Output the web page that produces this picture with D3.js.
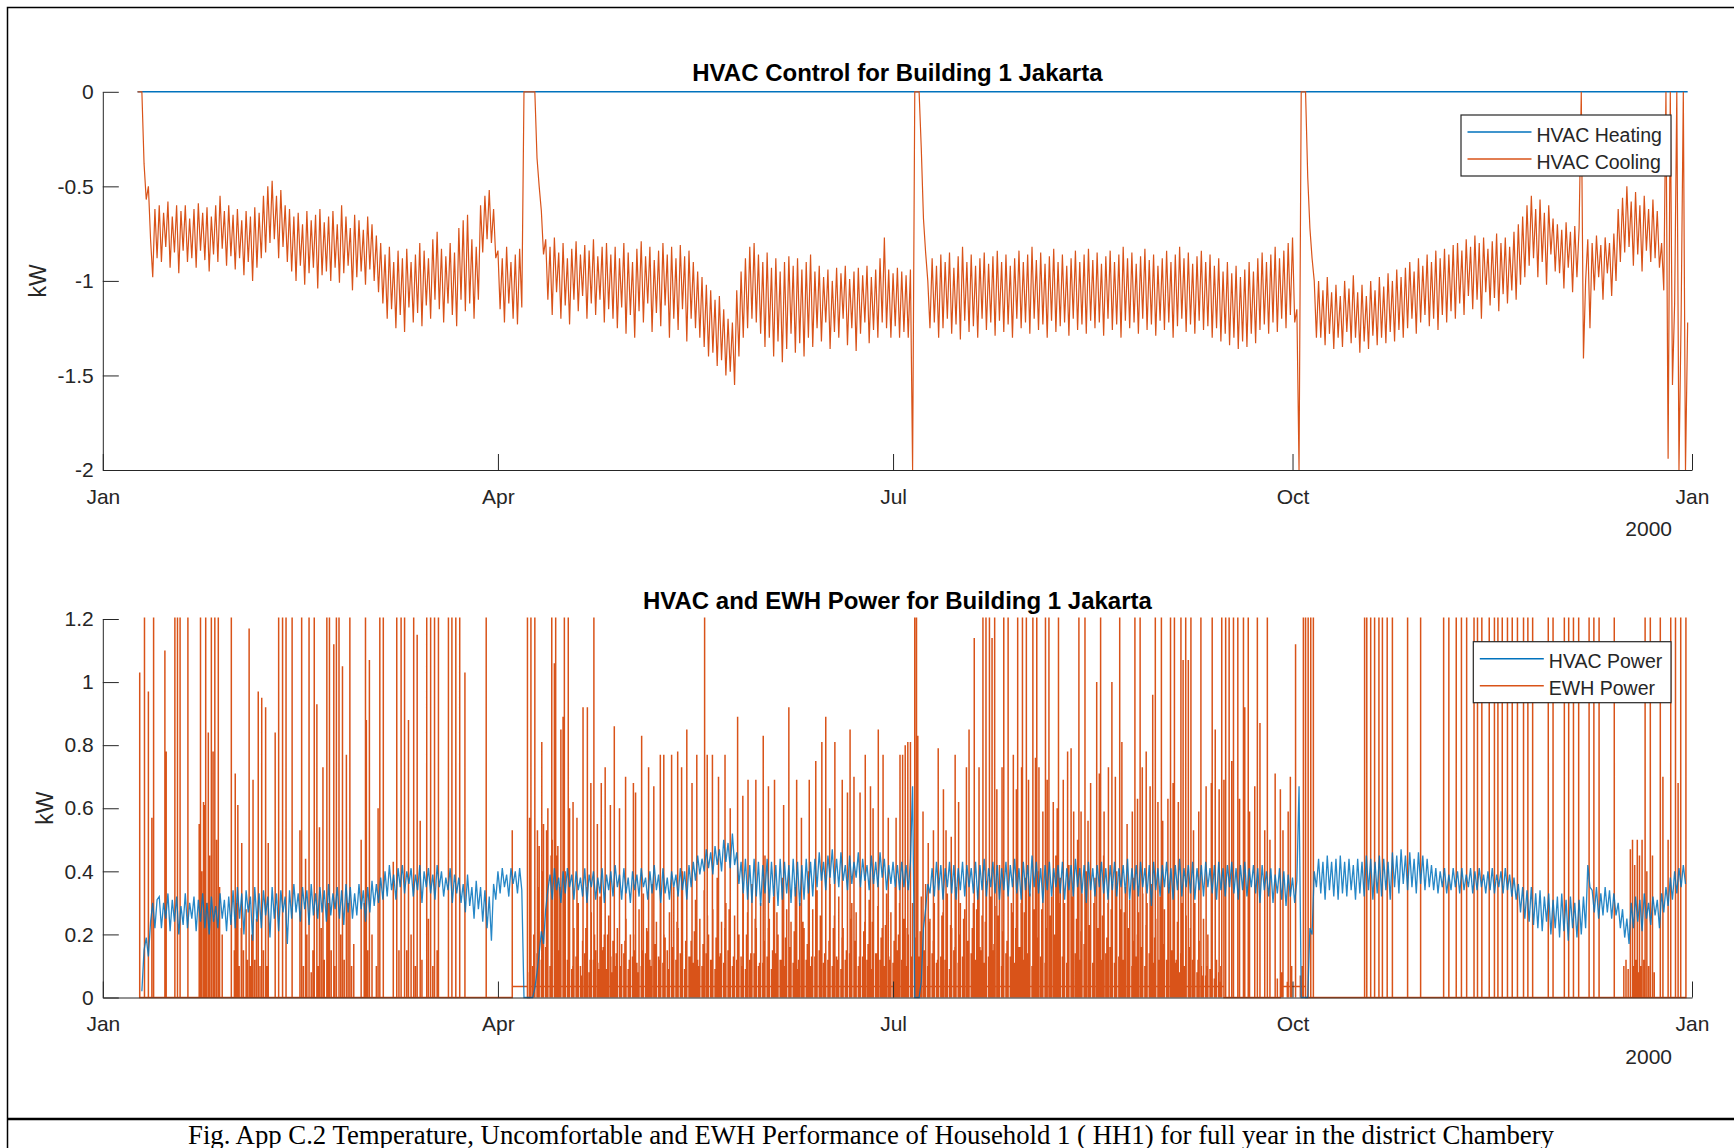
<!DOCTYPE html>
<html>
<head>
<meta charset="utf-8">
<script src="https://cdn.jsdelivr.net/npm/d3@7"></script>
<style>
  body { margin: 0; background: #fff; }
  svg { display: block; }
</style>
</head>
<body>
<svg id="fig"></svg>
<script>
// ---- data (day of year 2000, kW) ----
// rows: [start day, values every half day ...]
const coolingRows = [
  [8, 0, 0, 0, -.38, -.57, -.5, -.78, -.98, -.62, -.88],
  [13, -.6,-.9, -.64,-.82, -.58,-.93, -.66,-.85, -.6,-.96, -.63,-.84, -.6,-.9, -.67,-.88, -.62,-.93, -.59,-.84],
  [23, -.64,-.89, -.61,-.95, -.66,-.86, -.6,-.9, -.55,-.83, -.63,-.92, -.6,-.87, -.65,-.94, -.62,-.88, -.68,-.97],
  [33, -.63,-.9, -.66,-1, -.61,-.93, -.64,-.88, -.55,-.85, -.5,-.8, -.47,-.78, -.55,-.88, -.52,-.82, -.6,-.9],
  [43, -.62,-.95, -.66,-1, -.64,-.92, -.7,-1.02, -.63,-.96, -.68,-.93, -.65,-1.04, -.62,-.97, -.69,-.95, -.66,-1],
  [53, -.63,-.93, -.7,-1.01, -.6,-.96, -.66,-.92, -.72,-1.05, -.65,-.98, -.68,-.95, -.73,-1.02, -.66,-.94, -.7,-1],
  [63, -.76,-1.06, -.8,-1.12, -.86,-1.2, -.82,-1.15, -.9,-1.25, -.84,-1.18, -.88,-1.27, -.83,-1.14, -.9,-1.22, -.86,-1.17],
  [73, -.8,-1.24, -.84,-1.13, -.88,-1.2, -.78,-1.1, -.74,-1.15, -.83,-1.22, -.87,-1.12, -.8,-1.18, -.85,-1.24, -.72,-1.1],
  [83, -.68,-1.16, -.65,-1.12, -.78,-1.2, -.82,-1.1, -.6,-.85, -.55,-.78, -.52,-.8, -.62,-.88, -.84,-1.15, -.88,-1.22],
  [93, -.82,-1.12, -.9,-1.2, -.86,-1.23, -.83,-1.14, 0,0, 0,0, 0,0, -.35,-.5, -.63,-.86],
  [102, -.78,-1.1, -.82,-1.18, -.77,-1.06, -.85,-1.2, -.8,-1.13, -.88,-1.23, -.83,-1.1, -.79,-1.16, -.86,-1.08, -.81,-1.2],
  [112, -.84,-1.12, -.78,-1.18, -.87,-1.1, -.82,-1.22, -.8,-1.15, -.86,-1.2, -.82,-1.25, -.88,-1.14, -.8,-1.28, -.85,-1.18],
  [122, -.9,-1.3, -.83,-1.16, -.79,-1.22, -.87,-1.12, -.82,-1.27, -.89,-1.17, -.84,-1.24, -.8,-1.13, -.86,-1.3, -.82,-1.2],
  [132, -.88,-1.26, -.81,-1.15, -.87,-1.32, -.84,-1.2, -.9,-1.25, -.95,-1.3, -.98,-1.35, -1.02,-1.4, -1.05,-1.38, -1.1,-1.45],
  [142, -1.08,-1.42, -1.15,-1.5, -1.2,-1.48, -1.22,-1.55, -1.05,-1.4, -.95,-1.3, -.88,-1.25, -.82,-1.2, -.8,-1.22, -.86,-1.28],
  [152, -.9,-1.35, -.85,-1.3, -.93,-1.4, -.88,-1.32, -.95,-1.43, -.9,-1.36, -.87,-1.28, -.92,-1.38, -.88,-1.33, -.94,-1.4],
  [162, -.9,-1.3, -.86,-1.35, -.95,-1.25, -.92,-1.32, -.98,-1.22, -.94,-1.36, -1,-1.27, -.93,-1.3, -.96,-1.2, -.92,-1.34],
  [172, -.99,-1.25, -.95,-1.37, -.93,-1.28, -.97,-1.22, -.92,-1.33, -.98,-1.26, -.94,-1.3, -.88,-1.22, -.77,-1.25, -.94,-1.3],
  [182, -.96,-1.24, -.93,-1.3, -.95,-1.27, -.97,-1.3, -.94,-2, 0,0, 0,-.3, -.67,-.85, -1,-1.25],
  [191, -.88,-1.22, -.92,-1.3, -.86,-1.25, -.9,-1.2, -.85,-1.28, -.93,-1.23, -.87,-1.31, -.82,-1.21, -.9,-1.27, -.86,-1.24],
  [201, -.92,-1.3, -.88,-1.2, -.85,-1.26, -.91,-1.22, -.87,-1.29, -.84,-1.21, -.9,-1.27, -.86,-1.23, -.92,-1.3, -.88,-1.2],
  [211, -.84,-1.25, -.9,-1.22, -.86,-1.28, -.82,-1.2, -.89,-1.26, -.85,-1.23, -.91,-1.3, -.87,-1.21, -.83,-1.27, -.9,-1.24],
  [221, -.86,-1.22, -.92,-1.29, -.88,-1.2, -.84,-1.26, -.9,-1.23, -.86,-1.28, -.83,-1.21, -.89,-1.25, -.85,-1.22, -.91,-1.29],
  [231, -.87,-1.2, -.84,-1.26, -.9,-1.23, -.86,-1.3, -.82,-1.21, -.88,-1.25, -.85,-1.22, -.91,-1.28, -.87,-1.2, -.83,-1.26],
  [241, -.89,-1.23, -.86,-1.29, -.92,-1.21, -.88,-1.26, -.84,-1.22, -.9,-1.3, -.86,-1.24, -.82,-1.2, -.88,-1.27, -.85,-1.23],
  [251, -.91,-1.28, -.87,-1.21, -.84,-1.26, -.9,-1.24, -.86,-1.3, -.92,-1.25, -.88,-1.32, -.95,-1.28, -.9,-1.34, -.96,-1.3],
  [261, -.92,-1.36, -.98,-1.32, -.94,-1.35, -.9,-1.28, -.95,-1.33, -.88,-1.26, -.85,-1.23, -.9,-1.28, -.86,-1.22, -.82,-1.27],
  [271, -.88,-1.2, -.84,-1.25, -.8,-1.18, -.77,-1.22, -1.15,-2, 0,0, 0,-.45, -.72,-.88, -1,-1.3],
  [280, -1,-1.3, -1.05,-1.34, -.98,-1.28, -1.06,-1.36, -1.02,-1.3, -1.08,-1.35, -1,-1.27, -1.04,-1.33, -.97,-1.3, -1.06,-1.38],
  [290, -1.02,-1.32, -1.08,-1.36, -1,-1.29, -1.05,-1.34, -.98,-1.3, -1.03,-1.33, -.96,-1.27, -1,-1.32, -.94,-1.26, -.98,-1.3],
  [300, -.93,-1.25, -.9,-1.2, -.95,-1.28, -.88,-1.22, -.92,-1.18, -.86,-1.24, -.9,-1.2, -.84,-1.26, -.88,-1.18, -.83,-1.22],
  [310, -.86,-1.16, -.81,-1.2, -.8,-1.12, -.84,-1.18, -.78,-1.08, -.82,-1.15, -.76,-1.1, -.8,-1.2, -.77,-1.06, -.83,-1.13],
  [320, -.79,-1.09, -.75,-1.16, -.8,-1.07, -.77,-1.12, -.82,-1.05, -.74,-1.1, -.7,-1.02, -.66,-.98, -.6,-.92, -.55,-.88],
  [330, -.62,-.98, -.57,-.9, -.64,-1.02, -.6,-.86, -.67,-.95, -.7,-.96, -.73,-1.04, -.69,-.93, -.74,-1.06, -.71,-.98],
  [340, -.72,0, -1.41,-1, -.78,-1.25, -.8,-1.05, -.76,-.98, -.81,-1.1, -.77,-.96, -.8,-1.08, -.75,-1],
  [349, -.62,-.9, -.56,-.85, -.5,-.82, -.58,-.92, -.53,-.86, -.6,-.95, -.55,-.84, -.62,-.9, -.57,-.88, -.63,-.93],
  [359, -.8,-1.05, 0,-1.94, 0,-1.55, -1.12,0, -2,-1.18, 0,-2, -1.22]
];
const heatingDays = [8, 365];
const heatingKW = [0, 0];

const hvacPowerRows = [
  [9, .02,.15, .19,.13, .24,.3, .22,.31],
  [13, .32,.22, .3,.25, .33,.21, .31,.24, .32,.2, .29,.23, .33,.22, .3,.25, .32,.21, .31,.24],
  [23, .33,.22, .3,.2, .32,.24, .29,.22, .33,.25, .31,.21, .32,.23, .34,.22, .35,.25, .33,.2],
  [33, .34,.27, .32,.18, .35,.24, .33,.22, .34,.26, .32,.19, .35,.25, .33,.21, .34,.27, .32,.17],
  [43, .34,.25, .36,.27, .33,.24, .35,.28, .34,.23, .36,.26, .33,.25, .35,.27, .34,.24, .36,.26],
  [53, .33,.28, .35,.25, .34,.23, .36,.27, .35,.25, .33,.26, .36,.28, .34,.24, .35,.27, .37,.29],
  [63, .36,.3, .38,.31, .4,.32, .42,.34, .39,.31, .41,.35, .42,.33, .4,.36, .41,.32, .39,.34],
  [73, .42,.3, .4,.35, .41,.33, .39,.31, .42,.35, .4,.32, .38,.34, .41,.3, .39,.33, .38,.3],
  [83, .36,.27, .39,.29, .35,.25, .37,.28, .35,.24, .34,.22, .32,.18, .36,.31, .4,.33, .41,.35],
  [93, .39,.32, .41,.36, .4,.33, .41,.34, 0,0, 0,0, 0,.03, .08,.14, .21,.17, .28,.34],
  [103, .39,.31, .41,.34, .38,.3, .4,.33, .41,.35, .39,.31, .4,.34, .38,.32, .41,.3, .39,.35],
  [113, .4,.31, .38,.33, .41,.3, .39,.34, .4,.32, .42,.35, .39,.31, .41,.33, .38,.3, .4,.34],
  [123, .39,.32, .41,.35, .38,.31, .4,.33, .42,.34, .39,.3, .41,.33, .38,.31, .4,.35, .39,.32],
  [133, .41,.34, .4,.31, .42,.35, .43,.37, .45,.39, .44,.4, .47,.41, .46,.39, .48,.42, .47,.4],
  [143, .5,.43, .49,.41, .52,.42, .46,.36, .43,.33, .44,.31, .42,.3, .44,.32, .43,.29, .42,.33],
  [153, .44,.3, .43,.32, .42,.29, .44,.31, .43,.33, .42,.3, .44,.32, .43,.29, .42,.31, .44,.33],
  [163, .43,.32, .44,.35, .46,.37, .43,.34, .45,.38, .47,.36, .44,.35, .46,.37, .42,.34, .45,.36],
  [173, .43,.38, .46,.35, .44,.37, .42,.34, .45,.36, .43,.35, .46,.38, .44,.34, .42,.36, .43,.35],
  [183, .42,.34, .43,.35, .42,.34, .43,.67, 0,0, 0,.05, .22,.28, .36,.33],
  [191, .41,.32, .43,.34, .42,.31, .41,.35, .43,.33, .42,.31, .41,.34, .43,.32, .42,.35, .41,.33],
  [201, .43,.31, .42,.34, .44,.32, .41,.35, .43,.33, .42,.31, .41,.34, .43,.32, .42,.35, .44,.33],
  [211, .41,.31, .43,.34, .42,.32, .45,.35, .43,.33, .41,.3, .42,.34, .43,.32, .41,.35, .42,.33],
  [221, .43,.31, .41,.34, .42,.32, .44,.35, .41,.33, .42,.3, .43,.34, .41,.32, .42,.35, .43,.33],
  [231, .41,.31, .42,.34, .43,.32, .41,.35, .42,.33, .44,.31, .41,.34, .42,.32, .43,.35, .41,.33],
  [241, .42,.29, .43,.34, .41,.32, .42,.35, .43,.33, .41,.31, .42,.34, .44,.32, .41,.35, .42,.33],
  [251, .43,.31, .41,.34, .42,.32, .43,.35, .41,.33, .42,.31, .43,.34, .41,.32, .42,.35, .43,.33],
  [261, .41,.31, .42,.34, .43,.32, .41,.35, .42,.33, .41,.3, .42,.34, .4,.32, .41,.3, .39,.33],
  [271, .41,.31, .4,.29, .39,.32, .38,.3, .37,.67, 0,0, 0,0, .22,.2, .4,.35],
  [280, .44,.33, .43,.31, .45,.34, .43,.32, .44,.31, .45,.33, .43,.32, .44,.34, .42,.31, .44,.33],
  [290, .43,.32, .45,.34, .44,.31, .43,.33, .45,.32, .44,.34, .43,.31, .46,.35, .45,.33, .47,.36],
  [300, .45,.34, .46,.35, .44,.33, .46,.36, .45,.34, .44,.35, .42,.34, .41,.33, .4,.35, .41,.33],
  [310, .39,.34, .41,.35, .4,.33, .41,.34, .39,.35, .41,.33, .4,.34, .41,.35, .39,.33, .4,.34],
  [320, .41,.33, .39,.35, .4,.33, .41,.34, .39,.32, .38,.31, .36,.27, .35,.25, .34,.24, .35,.23],
  [330, .33,.22, .34,.21, .32,.24, .33,.2, .31,.22, .32,.19, .33,.21, .31,.18, .32,.22, .3,.19],
  [340, .31,.2, .32,.22, .42,.35, .34,.27, .35,.25, .33,.26, .35,.27, .34,.25, .33,.26, .3,.22],
  [350, .28,.19, .25,.17, .3,.22, .32,.24, .31,.21, .33,.25, .3,.23, .32,.26, .31,.22, .33,.27],
  [360, .35,.29, .38,.31, .4,.33, .41,.35, .42,.36]
];

// EWH spikes that run past the top of the axes (clipped at 1.2 kW)
const ewhFullKW = 3;
const ewhFullDays = [
  9.6, 11.7, 16.6, 17.2, 17.8, 19.6, 22.5, 23.7, 25.0, 25.8, 26.6, 29.6, 40.5, 41.4, 42.2, 43.6,
  45.8, 47.5, 48.7, 51.6, 52.2, 53.8, 54.4, 56.9, 60.5, 63.8, 64.6, 67.7, 68.7, 69.5, 71.6, 74.6,
  75.5, 76.4, 77.3, 79.6, 80.4, 81.3, 82.2, 88.3, 97.8, 98.6, 99.5, 103.4, 104.3, 106.3, 107.2,
  113.1, 138.6, 187.0, 187.4, 202.7, 203.4, 204.2, 205.4, 207.5, 208.5, 210.7, 211.8, 212.7,
  214.2, 215.1, 217.1, 217.9, 220.1, 224.8, 226.2, 229.8, 234.2, 237.7, 238.9, 242.4, 243.8,
  245.9, 246.8, 248.3, 249.4, 250.6, 252.9, 255.5, 257.7, 258.6, 259.4, 260.4, 261.4, 262.7,
  263.8, 265.9, 268.2, 276.5, 277.0, 277.6, 278.2, 278.8, 290.6, 291.1, 292.0, 292.9, 293.9,
  294.7, 295.8, 297.0, 300.5, 303.5, 308.8, 310.0, 311.7, 312.9, 314.1, 315.8, 316.6, 317.6,
  319.3, 320.5, 321.3, 322.3, 323.5, 324.6, 325.8, 327.2, 328.2, 329.3, 332.9, 334.0, 336.6,
  337.6, 338.7, 339.9, 342.3, 343.4, 344.6, 348.1, 355.2, 356.4, 358.7, 361.1, 362.2, 363.4, 364.6
];

// EWH spikes that stay inside the axes: [day, kW]
const ewhPeaks = [
  [8.5,1.03],[10.5,.97],[11.3,.57],[14.3,1.1],[14.6,.78],[23.4,.61],[24.3,.84],[25.4,.78],
  [30.5,.71],[31.1,.61],[32,.49],[33.7,1.17],[34.6,.69],[35.8,.97],[36.6,.95],[37.5,.92],
  [38.1,.49],[39.7,.84],[45.4,.53],[46.7,.44],[49.3,.93],[49.9,.54],[50.7,.73],[53.2,1.12],
  [55.2,1.05],[56.1,.77],[57.8,.17],[59.5,.5],[60.7,.88],[61.4,1.07],[63.4,.6],[66.9,.43],
  [70.4,.88],[72.4,1.15],[73.1,.56],[83.4,1.03],[94.3,.53],
  [22.2,.55],[22.8,.4],[23.2,.62],[23.9,.3],[24.6,.45],[25.6,.25],[26.2,.5],[26.9,.35],[27.5,.2],
  [30.3,.15],[30.8,.3],[31.4,.1],[31.9,.22],[32.4,.15],[33,.28],[33.3,.12],[34,.1],[34.3,.2],
  [35,.12],[35.4,.25],[36.2,.1],[37,.15],[37.8,.1],
  [46.2,.1],[47,.2],[48,.08],[48.4,.15],[49.6,.1],[50.3,.22],[51,.12],[51.9,.3],[52.6,.15],
  [53.4,.1],[54.8,.2],[55.6,.12],[56.5,.3],[57.3,.1],
  [60.2,.3],[61,.15],[62,.2],[63,.1],[68.2,.15],[70,.15],[71,.2],[72,.1],[73.5,.12],[75,.25],
  [76,.1],[77,.15],
  [98.3,.57],[100.1,.53],[101.1,.81],[102.2,.53],[104,1.06],[104.8,.48],[105.5,.85],[106,.89],
  [107.5,.6],[108.3,.62],[109.2,.57],[110.6,.92],[111.6,.92],[112.4,.68],[113.9,.55],[114.8,.68],
  [115.7,.73],[116.9,.61],[117.8,.86],[119,.6],[120.4,.7],[122.2,.68],[122.7,.65],[124.1,.83],
  [125.7,.73],[126.9,.67],[128.4,.77],[129.2,.77],[131,.77],[132.4,.78],[133.3,.73],[134.5,.85],
  [135.7,.68],[136.8,.77],[139.2,.77],[140.4,.77],[141.8,.7],[143.3,.77],[144.5,.6],[146.2,.89],
  [147.4,.64],[148.6,.69],[150.4,.69],[152.1,.83],[153.3,.67],[154.7,.69],[156.8,.61],[158,.92],
  [159.8,.69],[160.9,.57],[162.7,.69],[164.2,.75],[165.6,.81],[166.5,.89],[167.4,.6],[168.6,.81],
  [170.3,.69],[171.5,.65],[172.1,.85],[173,.7],[174.4,.65],[175.6,.77],[176.8,.67],[177.4,.6],
  [178.6,.85],[179.7,.77],[180.9,.57],[182.7,.57],
  [183.6,.77],[184.2,.77],[184.8,.8],[185.4,.81],[186,.81],[187.7,.83],[188.9,.59],[190.1,.49],
  [191.3,.53],[192.4,.79],[193.6,.66],[194.2,.53],[195.4,.51],[196.3,.77],[197.1,.62],[198.9,.73],
  [199.5,.85],[200.7,1.14],[201.8,.73],[204.8,1.14],[205.9,.66],[207.1,.73],[209.7,.77],[210.4,.66],
  [211.6,.73],[213.2,.69],[214.8,.76],[215.6,.73],[216.5,.59],[217.5,.69],[218.9,.62],[219.8,.6],
  [221.2,.69],[222.2,.78],[223,.79],[223.6,.59],[225.3,.59],[226.9,.56],[227.5,.68],[228.9,1],
  [229.5,.71],[230.6,.59],[231.6,.73],[232.4,1],[233.2,.7],[234.7,.81],[235.9,.55],[237.1,.59],
  [238.3,.63],[239.4,.73],[240.3,.78],[241.2,.67],[241.8,.96],[243,.62],[244.1,.56],[245.3,.63],
  [246.5,.68],[247.7,.62],[248.8,1.07],[250,1.07],[251.2,.53],[252.4,.59],[254.1,.67],[255.3,.68],
  [256.2,.85],[257.1,.66],[258.2,.69],[260,.75],[261.8,.63],[263,.92],[264.1,.59],[265.3,.67],
  [266.5,.87],[267.6,.53],[268.8,.5],[270,.71],[271.2,.66],[271.8,.53],[273,.59],[273.5,.7],
  [274.7,1.12],
  [270.5,.06],[271.5,.08],[272.8,.05],[273.8,.1],[275.8,.07],[276.2,.1],
  [350.3,.1],[350.8,.12],[351.3,.09],[351.8,.47],[352.3,.5],[352.6,.1],[352.8,.42],[353.1,.12],
  [353.4,.5],[353.7,.08],[353.9,.45],[354.2,.1],[354.5,.5],[354.9,.12],[355.6,.4],[356,.1],
  [356.9,.45],[357.3,.08],[359.3,.7],[360.5,.5],[362.8,.68]
];

// low daily EWH spikes in the busy Apr-Sep stretch: [start day, one value per day ...]
const ewhLowA = [
  [98.5, .12,.25,.48,.55,.6,.5,.45,.58,.4,.3],
  [108.5, .22,.3,.18,.35,.27,.15,.32,.2,.26,.18],
  [118.5, .22,.17,.25,.2,.15,.28,.33,.21,.36,.24],
  [128.5, .3,.19,.27,.35,.22,.4,.26,.18,.31,.25],
  [138.5, .34,.2,.28,.38,.24,.3,.42,.26,.2,.33],
  [148.5, .27,.36,.22,.3,.45,.25,.32,.2,.38,.28],
  [158.5, .24,.35,.3,.22,.4,.28,.34,.25,.3,.36],
  [168.5, .26,.32,.22,.4,.3,.27,.35,.24,.31,.38],
  [178.5, .29,.22,.33,.27,.35,.3,.25,.2,.3,.28],
  [188.5, .32,.36,.25,.3,.38,.27,.33,.22,.35,.3],
  [198.5, .28,.4,.3,.34,.26,.37,.32,.29,.42,.3],
  [208.5, .35,.27,.44,.3,.38,.33,.28,.4,.36,.3],
  [218.5, .32,.45,.38,.3,.42,.35,.5,.33,.4,.3],
  [228.5, .38,.34,.45,.3,.36,.4,.28,.35,.31,.38],
  [238.5, .27,.33,.3,.36,.25,.32,.28,.35,.3,.24],
  [248.5, .3,.26,.22,.3,.18,.25,.2,.15,.12,.1]
];
const ewhLowB = [
  [99, .1,.14,.12,.16,.1,.13,.15,.11,.12,.09],
  [109, .13,.1,.14,.08,.12,.11,.15,.09,.13,.1],
  [119, .12,.14,.09,.13,.11,.1,.14,.12,.08,.13],
  [129, .11,.15,.1,.12,.14,.09,.13,.11,.12,.1],
  [139, .14,.12,.09,.13,.11,.15,.1,.12,.13,.09],
  [149, .12,.14,.1,.11,.13,.09,.14,.12,.1,.13],
  [159, .11,.09,.14,.12,.1,.13,.15,.11,.12,.1],
  [169, .13,.09,.12,.14,.11,.1,.13,.12,.09,.14],
  [179, .12,.1,.13,.11,.15,.12,.1,.14,.09,.13],
  [189, .12,.1,.14,.11,.13,.12,.09,.15,.11,.13],
  [199, .1,.14,.12,.16,.11,.13,.15,.12,.1,.14],
  [209, .13,.11,.16,.12,.14,.1,.15,.13,.11,.14],
  [219, .12,.16,.13,.11,.15,.14,.12,.17,.13,.11],
  [229, .15,.12,.14,.16,.11,.13,.12,.15,.1,.13],
  [239, .12,.1,.14,.11,.13,.09,.12,.1,.11,.08],
  [249, .1,.09,.12,.08,.1,.07,.09,.06,.08]
];
const ewhLowC = [
  [98.25, .08,.2,.35,.4,.3,.45,.25,.35,.2,.15],
  [108.25, .1,.18,.07,.22,.12,.2,.09,.16,.2,.08],
  [118.25, .14,.1,.18,.12,.2,.08,.15,.22,.1,.17],
  [128.25, .12,.2,.09,.16,.24,.11,.18,.13,.21,.1],
  [138.25, .17,.26,.12,.19,.14,.22,.28,.13,.18,.1],
  [148.25, .2,.14,.25,.11,.18,.22,.15,.27,.12,.19],
  [158.25, .16,.21,.12,.24,.17,.13,.2,.26,.14,.18],
  [168.25, .22,.12,.19,.15,.25,.18,.13,.21,.17,.24],
  [178.25, .14,.19,.23,.12,.18,.2,.15,.22,.13,.19],
  [188.25, .21,.15,.24,.18,.12,.26,.19,.23,.16,.2],
  [198.25, .25,.18,.22,.28,.15,.24,.2,.17,.26,.21],
  [208.25, .18,.3,.22,.16,.27,.2,.24,.19,.28,.22],
  [218.25, .26,.2,.3,.24,.18,.32,.25,.21,.28,.23],
  [228.25, .3,.22,.26,.19,.28,.24,.2,.27,.22,.18],
  [238.25, .2,.16,.23,.14,.19,.12,.17,.1,.15,.12],
  [248.25, .14,.1,.16,.08,.12,.07,.1,.06,.08,.05]
];
// stretches where the EWH trace idles just above zero: [from day, to day, kW]
const ewhBaseSpans = [[93.4, 97, .035], [98, 257.7, .035], [270.6, 276.5, .035]];

const monthTickDays = [0, 91, 182, 274, 366];
const topTicks = [-2, -1.5, -1, -0.5, 0];
const bottomTicks = [0, 0.2, 0.4, 0.6, 0.8, 1, 1.2];

// ---- helpers ----
const BLUE = "#0072BD", ORANGE = "#D95319", INK = "#262626";
const SANS = "'Liberation Sans', Arial, Helvetica, sans-serif";
const t0 = Date.UTC(2000, 0, 1);
const toDate = d => new Date(t0 + d * 864e5);

function expandRows(rows, step) {
    const out = [];
    rows.forEach(r => r.slice(1).forEach((v, i) => out.push([r[0] + i * step, v])));
    return out;
}

function ewhTrace() {
    const events = ewhFullDays.map(d => [d, ewhFullKW])
        .concat(ewhPeaks, expandRows(ewhLowA, 1), expandRows(ewhLowB, 1), expandRows(ewhLowC, 1))
        .sort((a, b) => a[0] - b[0]);
    const baseAt = d => {
        const s = ewhBaseSpans.find(s => d >= s[0] && d <= s[1]);
        return s ? s[2] : 0;
    };
    const pts = [];
    events.forEach((e, i) => {
        const b = baseAt(e[0]);
        pts.push([e[0], 0], [e[0], e[1]], [e[0], b]);
        if (i + 1 < events.length) pts.push([events[i + 1][0], b]);
    });
    return pts;
}

// ---- figure ----
const W = 1734, H = 1148;
const svg = d3.select("#fig").attr("width", W).attr("height", H);
svg.append("rect").attr("width", W).attr("height", H).attr("fill", "#fff");

const x = d3.scaleUtc()
    .domain([toDate(0), toDate(366)])
    .range([102.8, 1692]);

function panel(cfg) {
    const y = cfg.y;
    const [yb, yt] = y.range();
    const [x0, x1] = x.range();
    const g = svg.append("g");

    svg.append("clipPath").attr("id", cfg.id)
        .append("rect")
        .attr("x", x0).attr("y", yt - 1.5)
        .attr("width", x1 - x0).attr("height", yb - yt + 3);

    const plot = g.append("g").attr("clip-path", `url(#${cfg.id})`);
    const line = d3.line().x(p => x(toDate(p[0]))).y(p => y(p[1]));
    cfg.series.forEach(s => {
        plot.append("path")
            .datum(s.points)
            .attr("fill", "none")
            .attr("stroke", s.color)
            .attr("stroke-width", s.width || 1.1)
            .attr("stroke-opacity", s.opacity || 1)
            .attr("d", line);
    });

    const xAxis = g.append("g")
        .attr("transform", `translate(0,${yb})`)
        .call(d3.axisBottom(x)
            .tickValues(monthTickDays.map(toDate))
            .tickFormat(d3.utcFormat("%b"))
            .tickSize(-16).tickSizeOuter(0).tickPadding(19));

    const yAxis = g.append("g")
        .attr("transform", `translate(${x0},0)`)
        .call(d3.axisLeft(y)
            .tickValues(cfg.ticks)
            .tickFormat(String)
            .tickSize(-16).tickSizeOuter(0).tickPadding(9));

    [xAxis, yAxis].forEach(a => {
        a.attr("font-size", 21).attr("font-family", SANS).attr("color", INK);
        a.selectAll("path, line").attr("stroke-width", 1);
    });

    g.append("text")
        .attr("x", 1672).attr("y", yb + 66)
        .attr("text-anchor", "end")
        .attr("font-family", SANS).attr("font-size", 21).attr("fill", INK)
        .text("2000");

    g.append("text")
        .attr("transform", `translate(${cfg.labelX},${(yb + yt) / 2}) rotate(-90)`)
        .attr("text-anchor", "middle")
        .attr("font-family", SANS).attr("font-size", 23).attr("fill", INK)
        .text("kW");

    g.append("text")
        .attr("x", (x0 + x1) / 2).attr("y", yt - 10.5)
        .attr("text-anchor", "middle")
        .attr("font-family", SANS).attr("font-size", 24).attr("font-weight", "bold")
        .attr("fill", "#000")
        .text(cfg.title);

    const lg = cfg.legend;
    const leg = g.append("g");
    leg.append("rect")
        .attr("x", lg.x).attr("y", lg.y).attr("width", lg.w).attr("height", 61)
        .attr("fill", "#fff").attr("stroke", INK).attr("stroke-width", 1.2);
    lg.items.forEach((it, i) => {
        const cy = lg.y + 17 + i * 27;
        leg.append("line")
            .attr("x1", lg.x + 6.5).attr("x2", lg.x + 70.5)
            .attr("y1", cy).attr("y2", cy)
            .attr("stroke", it.color).attr("stroke-width", 1.5);
        leg.append("text")
            .attr("x", lg.x + 75.5).attr("y", cy + 9.5)
            .attr("font-family", SANS).attr("font-size", 19.5).attr("fill", INK)
            .text(it.name);
    });
}

panel({
    id: "clipTop",
    y: d3.scaleLinear().domain([-2, 0]).range([470, 91.8]),
    ticks: topTicks,
    labelX: 46,
    title: "HVAC Control for Building 1 Jakarta",
    series: [
        { color: BLUE, points: heatingDays.map((d, i) => [d, heatingKW[i]]), width: 1.4 },
        { color: ORANGE, points: expandRows(coolingRows, 0.5), width: 1.2 }
    ],
    legend: { x: 1461, y: 115, w: 210,
        items: [{ name: "HVAC Heating", color: BLUE }, { name: "HVAC Cooling", color: ORANGE }] }
});

panel({
    id: "clipBottom",
    y: d3.scaleLinear().domain([0, 1.2]).range([997.5, 619]),
    ticks: bottomTicks,
    labelX: 52.5,
    title: "HVAC and EWH Power for Building 1 Jakarta",
    series: [
        { color: ORANGE, points: ewhTrace(), width: 1.5 },
        { color: BLUE, points: expandRows(hvacPowerRows, 0.5), width: 1.3, opacity: 0.85 }
    ],
    legend: { x: 1473.3, y: 641.7, w: 197.7,
        items: [{ name: "HVAC Power", color: BLUE }, { name: "EWH Power", color: ORANGE }] }
});

// document frame and caption
svg.append("path")
    .attr("d", `M${W},7.5H7.5V${H}`)
    .attr("fill", "none").attr("stroke", "#000").attr("stroke-width", 1.5);
svg.append("line")
    .attr("x1", 7.5).attr("x2", W).attr("y1", 1119).attr("y2", 1119)
    .attr("stroke", "#000").attr("stroke-width", 2.5);
svg.append("text")
    .attr("x", 871).attr("y", 1144)
    .attr("text-anchor", "middle")
    .attr("font-family", "'Liberation Serif', 'Times New Roman', serif")
    .attr("font-size", 27)
    .attr("textLength", 1366).attr("lengthAdjust", "spacingAndGlyphs")
    .attr("fill", "#000")
    .text("Fig. App C.2 Temperature, Uncomfortable and EWH Performance of Household 1 ( HH1) for full year in the district Chambery");
</script>
</body>
</html>
